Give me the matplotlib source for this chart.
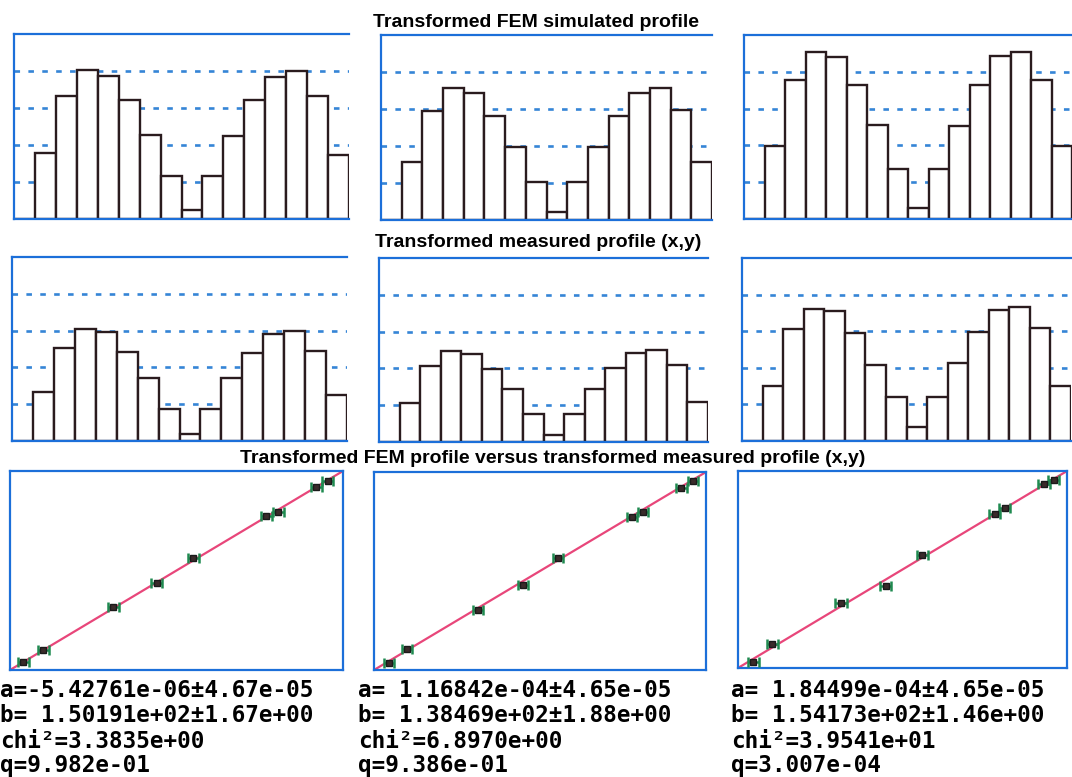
import matplotlib
matplotlib.use("Agg")
import matplotlib.pyplot as plt
import numpy as np

plt.rcParams['lines.scale_dashes'] = False

W, H = 1072, 777

# ---- profile data (16 bins, first bin empty) ----
fem_sim = [
    [0, 1.78, 3.32, 4.04, 3.86, 3.22, 2.27, 1.17, 0.24, 1.17, 2.25, 3.22, 3.83, 4.01, 3.32, 1.74],
    [0, 1.58, 2.95, 3.56, 3.42, 2.82, 1.98, 1.02, 0.21, 1.04, 1.98, 2.82, 3.42, 3.56, 2.97, 1.56],
    [0, 1.99, 3.78, 4.54, 4.41, 3.64, 2.56, 1.36, 0.29, 1.36, 2.54, 3.64, 4.43, 4.53, 3.78, 1.98],
]
measured = [
    [0, 1.32, 2.52, 3.04, 2.95, 2.41, 1.72, 0.88, 0.20, 0.86, 1.70, 2.40, 2.91, 3.00, 2.45, 1.26],
    [0, 1.06, 2.07, 2.48, 2.39, 1.98, 1.44, 0.77, 0.18, 0.77, 1.44, 2.00, 2.41, 2.50, 2.09, 1.08],
    [0, 1.49, 3.06, 3.61, 3.55, 2.95, 2.09, 1.20, 0.38, 1.20, 2.12, 2.99, 3.58, 3.65, 3.10, 1.50],
]

# ---- transformed FEM (x) versus transformed measured (y) ----
scatter_x = [
    [0.00133, 0.00333, 0.01032, 0.01465, 0.01831, 0.02563, 0.02680, 0.03063, 0.03179],
    [0.00166, 0.00361, 0.01134, 0.01625, 0.02004, 0.02802, 0.02929, 0.03344, 0.03467],
    [0.00149, 0.00337, 0.01015, 0.01456, 0.01816, 0.02530, 0.02627, 0.03016, 0.03113],
]
scatter_y = [
    [0.21, 0.49, 1.585, 2.175, 2.81, 3.86, 3.98, 4.60, 4.755],
    [0.18, 0.535, 1.525, 2.145, 2.82, 3.855, 3.985, 4.585, 4.77],
    [0.15, 0.62, 1.65, 2.075, 2.88, 3.90, 4.05, 4.68, 4.76],
]
scatter_xerr = [
    [0.00055, 0.00055, 0.00055, 0.00055, 0.00055, 0.00055, 0.00055, 0.00055, 0.00055],
    [0.00055, 0.00055, 0.00055, 0.00055, 0.00055, 0.00055, 0.00055, 0.00055, 0.00055],
    [0.00055, 0.00055, 0.00055, 0.00055, 0.00055, 0.00055, 0.00055, 0.00055, 0.00055],
]

# linear fit y = a + b x
fit_a = [-5.42761e-06, 1.16842e-04, 1.84499e-04]
fit_b = [1.50191e+02, 1.38469e+02, 1.54173e+02]
fit_text = [
    ["a=-5.42761e-06\u00b14.67e-05", "b= 1.50191e+02\u00b11.67e+00", "chi\u00b2=3.3835e+00", "q=9.982e-01"],
    ["a= 1.16842e-04\u00b14.65e-05", "b= 1.38469e+02\u00b11.88e+00", "chi\u00b2=6.8970e+00", "q=9.386e-01"],
    ["a= 1.84499e-04\u00b14.65e-05", "b= 1.54173e+02\u00b11.46e+00", "chi\u00b2=3.9541e+01", "q=3.007e-04"],
]

titles = ["Transformed FEM simulated profile",
          "Transformed measured profile (x,y)",
          "Transformed FEM profile versus transformed measured profile (x,y)"]

BLUE = '#1c6fd9'
GRID = '#3585d6'
BAR_EDGE = '#2a1b1e'
FIT = '#e8467a'

fig = plt.figure(figsize=(W / 100, H / 100), dpi=100)


def rect(l, t, r, b):
    return [l / W, 1 - b / H, (r - l) / W, (b - t) / H]


row1 = [(14, 34, 349, 219), (381, 35, 712, 220), (744, 35, 1072, 219)]
row2 = [(12, 257, 347, 441), (379, 258, 708, 442), (742, 258, 1071, 441)]
row3 = [(10, 471, 343, 670), (374, 472, 706, 670), (738, 471, 1067, 668)]


def profile_axes(box, values):
    ax = fig.add_axes(rect(*box))
    n = len(values)
    ax.set_xlim(0, n)
    ax.set_ylim(0, 5)
    for lvl in (1, 2, 3, 4):
        ax.axhline(lvl, color=GRID, lw=1.9, linestyle=(0, (4.0, 6.0)), zorder=1)
    ax.bar(np.arange(n), values, width=1.0, align='edge', facecolor='white',
           edgecolor=BAR_EDGE, linewidth=1.7, zorder=2)
    for s in ('left', 'top', 'bottom'):
        ax.spines[s].set_color(BLUE)
        ax.spines[s].set_linewidth(1.6)
    ax.spines['right'].set_visible(False)
    ax.spines['bottom'].set_zorder(3)
    ax.set_xticks([])
    ax.set_yticks([])
    return ax


for i in range(3):
    profile_axes(row1[i], fem_sim[i])
    profile_axes(row2[i], measured[i])

for i in range(3):
    ax = fig.add_axes(rect(*row3[i]))
    ymax = 5.0
    xmax = (ymax - fit_a[i]) / fit_b[i]
    ax.set_xlim(0, xmax)
    ax.set_ylim(0, ymax)
    xx = np.array([0, xmax])
    ax.plot(xx, fit_a[i] + fit_b[i] * xx, color=FIT, lw=1.6, zorder=2)
    ax.errorbar(scatter_x[i], scatter_y[i], xerr=scatter_xerr[i], fmt='s', ms=5,
                mfc='#3a2a2a', mec='#1a1a1a', ecolor='#1f8a50', elinewidth=1.8,
                capsize=3.5, capthick=1.8, zorder=3)
    for s in ax.spines.values():
        s.set_color(BLUE)
        s.set_linewidth(1.6)
    ax.set_xticks([])
    ax.set_yticks([])

# section titles
title_pos = [(536, 27), (538, 247), (553, 463)]
for (tx, ty), title in zip(title_pos, titles):
    fig.text(tx / W, 1 - ty / H, title, ha='center', va='baseline',
             fontsize=14, fontweight='bold', family='Liberation Sans')

# fit results
col_x = [0, 358, 731]
line_y = [697, 722, 748, 772]
for i in range(3):
    for j, txt in enumerate(fit_text[i]):
        fig.text(col_x[i] / W, 1 - line_y[j] / H, txt, ha='left', va='baseline',
                 fontsize=16.3, fontweight='bold', family='DejaVu Sans Mono')

fig.savefig('out.png', dpi=100)
